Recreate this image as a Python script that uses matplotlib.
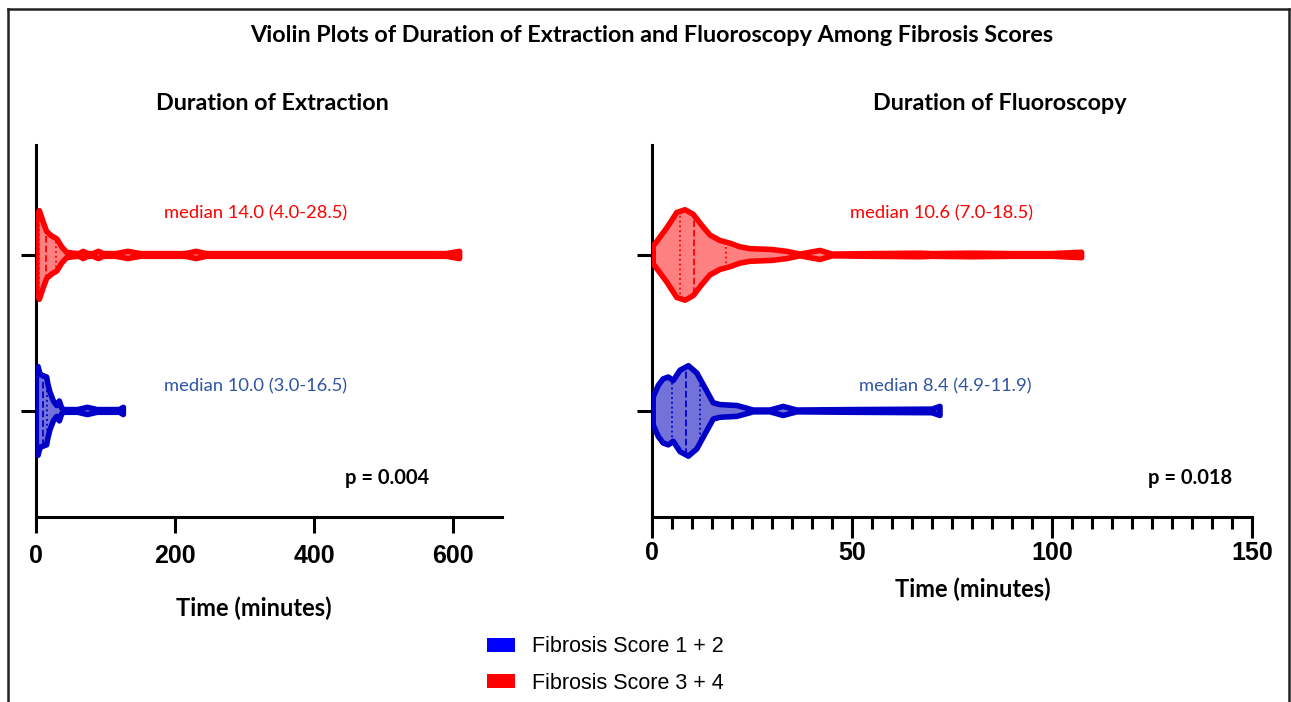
import numpy as np
import matplotlib
matplotlib.use("Agg")
import matplotlib.pyplot as plt
from matplotlib.lines import Line2D
from matplotlib.patches import Patch

# --- data (x in minutes, relative violin width 0..1) ---
ext_red_x = [1, 4.8, 10.5, 15.3, 22.5, 29.7, 37, 44, 53, 62, 68, 74, 82, 89.7, 97, 115, 132, 150, 215, 230, 245, 590, 609]
ext_red_w = [0.86, 0.98, 0.72, 0.52, 0.42, 0.36, 0.18, 0.06, 0.04, 0.03, 0.08, 0.03, 0.03, 0.08, 0.03, 0.03, 0.08, 0.03, 0.03, 0.08, 0.03, 0.03, 0.08]
ext_blue_x = [0.5, 3, 6, 10, 15.3, 17, 20, 25, 29.7, 33.6, 37, 40, 60, 74, 88, 120, 125.6]
ext_blue_w = [0.94, 0.98, 0.8, 0.78, 0.75, 0.6, 0.42, 0.22, 0.12, 0.22, 0.06, 0.03, 0.03, 0.08, 0.03, 0.03, 0.08]

flu_red_x = [0.3, 1.2, 3.7, 6.2, 8.25, 10.3, 12.4, 14.5, 17, 19.5, 22, 24.5, 30, 33.7, 37, 42, 45, 55, 67, 70, 80, 90, 100, 107.4]
flu_red_w = [0.2, 0.3, 0.6, 0.94, 1.0, 0.9, 0.66, 0.44, 0.32, 0.26, 0.18, 0.14, 0.12, 0.08, 0.02, 0.1, 0.02, 0.03, 0.04, 0.03, 0.04, 0.03, 0.03, 0.06]
flu_blue_x = [0.3, 1.6, 2.8, 4.1, 5.3, 7, 9.1, 11.2, 13.25, 15.3, 17, 21.2, 23.7, 25.3, 29.5, 32.8, 36.2, 50, 70, 72]
flu_blue_w = [0.31, 0.57, 0.71, 0.75, 0.67, 0.9, 1.0, 0.84, 0.51, 0.18, 0.14, 0.12, 0.06, 0.02, 0.02, 0.1, 0.02, 0.03, 0.04, 0.1]

# median and quartiles per group: (q1, median, q3)
ext_red_q = [4.0, 14.0, 28.5]
ext_blue_q = [3.0, 10.0, 16.5]
flu_red_q = [7.0, 10.6, 18.5]
flu_blue_q = [4.9, 8.4, 11.9]

groups = ["Fibrosis Score 1 + 2", "Fibrosis Score 3 + 4"]
p_values = ["p = 0.004", "p = 0.018"]

RED, RED_FILL = "#ff0000", "#ff8080"
BLUE, BLUE_FILL = "#0000c8", "#7272d8"
BLUE_TXT = "#2f55a3"
CAL = ["Lato", "DejaVu Sans"]
ARIAL = ["Liberation Sans", "DejaVu Sans"]
HALF = 0.29  # max half width of a violin in y units


def violin(ax, xs, ws, pos, quart, edge, fill):
    xs = np.asarray(xs, float)
    hw = np.asarray(ws, float) * HALF
    px = np.concatenate([xs, xs[::-1]])
    py = np.concatenate([pos + hw, (pos - hw)[::-1]])
    ax.fill(px, py, facecolor=fill, edgecolor=edge, lw=4.0, joinstyle="round", zorder=3)
    # quartile lines (dotted) and median (dashed)
    for i, q in enumerate(quart):
        h = np.interp(q, xs, hw)
        ax.plot([q, q], [pos - h, pos + h], color=edge, lw=1.3,
                ls="--" if i == 1 else ":", zorder=4)


fig = plt.figure(figsize=(12.91, 7.02), dpi=100)
ax1 = fig.add_axes([36 / 1291, 1 - 517 / 702, 466 / 1291, 372 / 702])
ax2 = fig.add_axes([652 / 1291, 1 - 517 / 702, 600 / 1291, 372 / 702])

violin(ax1, ext_red_x, ext_red_w, 2, ext_red_q, RED, RED_FILL)
violin(ax1, ext_blue_x, ext_blue_w, 1, ext_blue_q, BLUE, BLUE_FILL)
violin(ax2, flu_red_x, flu_red_w, 2, flu_red_q, RED, RED_FILL)
violin(ax2, flu_blue_x, flu_blue_w, 1, flu_blue_q, BLUE, BLUE_FILL)

for ax in (ax1, ax2):
    ax.set_ylim(0.32, 2.705)
    ax.set_yticks([1, 2])
    ax.set_yticklabels([])
    ax.spines[["top", "right"]].set_visible(False)
    ax.spines[["left", "bottom"]].set_linewidth(2.2)
    ax.tick_params(axis="y", length=11, width=2.2)

ax1.set_xlim(0, 670)
ax1.set_xticks([0, 200, 400, 600])
ax1.tick_params(axis="x", length=11.5, width=2.2, pad=8)
ax2.set_xlim(0, 150)
ax2.set_xticks([0, 50, 100, 150])
ax2.set_xticks(np.arange(0, 151, 5), minor=True)
ax2.tick_params(axis="x", which="major", length=15, width=2.2, pad=2.5)
ax2.tick_params(axis="x", which="minor", length=8.5, width=2.2)
for ax in (ax1, ax2):
    for lab in ax.get_xticklabels():
        lab.set_fontfamily(ARIAL)
        lab.set_fontweight("bold")
        lab.set_fontsize(18)

# texts
fig.text(652 / 1291, 1 - 35 / 702, "Violin Plots of Duration of Extraction and Fluoroscopy Among Fibrosis Scores",
         ha="center", va="center", fontsize=16.8, fontweight="bold", family=CAL)
fig.text(272 / 1291, 1 - 103 / 702, "Duration of Extraction", ha="center", va="center",
         fontsize=16.8, fontweight="bold", family=CAL)
fig.text(1000 / 1291, 1 - 103 / 702, "Duration of Fluoroscopy", ha="center", va="center",
         fontsize=16.8, fontweight="bold", family=CAL)
fig.text(254 / 1291, 1 - 608 / 702, "Time (minutes)", ha="center", va="center",
         fontsize=17, fontweight="bold", family=CAL)
fig.text(973 / 1291, 1 - 589 / 702, "Time (minutes)", ha="center", va="center",
         fontsize=17, fontweight="bold", family=CAL)

fig.text(256 / 1291, 1 - 213 / 702, "median %.1f (%.1f-%.1f)" % (ext_red_q[1], ext_red_q[0], ext_red_q[2]),
         ha="center", va="center", fontsize=13.2, color=RED, family=CAL)
fig.text(256 / 1291, 1 - 386 / 702, "median %.1f (%.1f-%.1f)" % (ext_blue_q[1], ext_blue_q[0], ext_blue_q[2]),
         ha="center", va="center", fontsize=13.2, color=BLUE_TXT, family=CAL)
fig.text(942 / 1291, 1 - 213 / 702, "median %.1f (%.1f-%.1f)" % (flu_red_q[1], flu_red_q[0], flu_red_q[2]),
         ha="center", va="center", fontsize=13.2, color=RED, family=CAL)
fig.text(945 / 1291, 1 - 386 / 702, "median %.1f (%.1f-%.1f)" % (flu_blue_q[1], flu_blue_q[0], flu_blue_q[2]),
         ha="center", va="center", fontsize=13.2, color=BLUE_TXT, family=CAL)
fig.text(387 / 1291, 1 - 478 / 702, p_values[0], ha="center", va="center",
         fontsize=14.5, fontweight="bold", family=CAL)
fig.text(1190 / 1291, 1 - 478 / 702, p_values[1], ha="center", va="center",
         fontsize=14.5, fontweight="bold", family=CAL)

handles = [Patch(facecolor="#0000ff", edgecolor="none"), Patch(facecolor="#ff0000", edgecolor="none")]
fig.legend(handles, groups, loc="center left", bbox_to_anchor=(468 / 1291, 1 - 665 / 702),
           frameon=False, prop={"family": ARIAL, "size": 15.5}, handlelength=1.3,
           handleheight=0.6, labelspacing=0.7, handletextpad=0.75)

# outer frame of the figure
for xs, ys in [([8, 1289], [8.5, 8.5]), ([8, 8], [8.5, 702]), ([1289, 1289], [8.5, 702])]:
    fig.add_artist(Line2D([x / 1291 for x in xs], [1 - y / 702 for y in ys], color="#222222", lw=1.8))

fig.savefig("out.png", dpi=100)
